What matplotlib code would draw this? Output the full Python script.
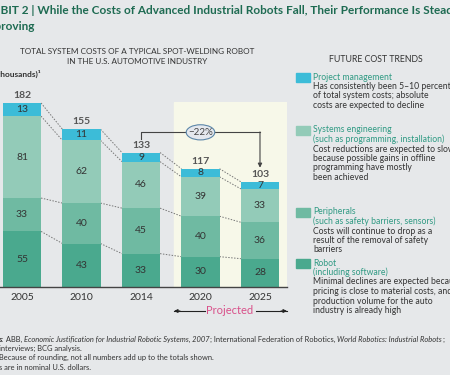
import matplotlib
matplotlib.use("Agg")
import matplotlib.pyplot as plt
from matplotlib.patches import Ellipse
from matplotlib.text import Annotation

plt.rcParams["font.family"] = ["Lato", "DejaVu Sans"]

# data
years = ["2005", "2010", "2014", "2020", "2025"]
robot = [55, 43, 33, 30, 28]
peripherals = [33, 40, 45, 40, 36]
systems_eng = [81, 62, 46, 39, 33]
project_mgmt = [13, 11, 9, 8, 7]
totals = [182, 155, 133, 117, 103]

series = [robot, peripherals, systems_eng, project_mgmt]
colors = ["#4aa98e", "#6fbaa2", "#93cbb8", "#3cbcd8"]

bg = "#e6e8ea"
dark = "#333333"
green = "#1e6b52"
teal = "#2f9a83"

W, H = 450, 375
fig = plt.figure(figsize=(4.5, 3.75), dpi=100, facecolor=bg)

def px(x, y):
    # pixel position (from top-left) -> figure fraction
    return x / W, 1 - y / H

# bars axes: baseline at y=287px, top at 102px, x from 0 to 287px
ax = fig.add_axes([0, (H - 287) / H, 287 / W, 185 / H])
ax.set_facecolor("none")
ax.set_xlim(-0.37, 4.454)
ax.set_ylim(0, 183)
ax.axvspan(2.555, 4.454, color="#f7f8e9", zorder=0)

xs = list(range(len(years)))
bw = 0.64
bottoms = [0] * len(years)
levels = []
for vals, c in zip(series, colors):
    ax.bar(xs, vals, bw, bottom=bottoms, color=c, zorder=2)
    for i, v in enumerate(vals):
        ax.text(i, bottoms[i] + v / 2, str(v), ha="center", va="center",
                fontsize=7.5, color=dark, zorder=3)
    bottoms = [b + v for b, v in zip(bottoms, vals)]
    levels.append(list(bottoms))

# dotted connectors between bars
for lev in levels:
    for i in range(len(years) - 1):
        ax.plot([i + bw / 2, i + 1 - bw / 2], [lev[i], lev[i + 1]],
                ls=(0, (1.5, 1.5)), lw=0.7, color="#777777", zorder=1)

for i, t in enumerate(totals):
    ax.text(i, bottoms[i] + 3, str(t), ha="center", va="bottom",
            fontsize=7.5, color="#555555", fontweight="bold", clip_on=False)

# -22% bracket
ax.plot([2, 2, 4], [146, 153, 153], color="#444444", lw=0.8, clip_on=False)
ax.annotate("", xy=(4, 118), xytext=(4, 153.4),
            arrowprops=dict(arrowstyle="-|>", color="#444444", lw=0.8,
                            mutation_scale=6, shrinkA=0, shrinkB=0))
ax.add_patch(Ellipse((3, 153), 0.48, 15, facecolor="#e4e8ee",
                     edgecolor="#5b86a8", lw=0.8, zorder=4))
ax.text(3, 153, "\u221222%", ha="center", va="center", fontsize=7,
        color="#444444", zorder=5)

for s in ["top", "right", "left"]:
    ax.spines[s].set_visible(False)
ax.spines["bottom"].set_color("#444444")
ax.spines["bottom"].set_linewidth(1.0)
ax.set_yticks([])
ax.set_xticks(xs)
ax.set_xticklabels(years, fontsize=7.5, color=dark)
ax.tick_params(axis="x", length=0, pad=4)

# projected marker
fig.text(*px(230, 311), "Projected", ha="center", va="center",
         fontsize=8, color="#d9508a")
fig.add_artist(plt.Line2D([174 / W, 205 / W], [1 - 311 / H] * 2, color="#222222", lw=0.8))
fig.add_artist(plt.Line2D([256 / W, 287 / W], [1 - 311 / H] * 2, color="#222222", lw=0.8))
ax.annotate("", xy=px(174, 311), xytext=px(180, 311), xycoords="figure fraction",
            arrowprops=dict(arrowstyle="-|>", color="#222222", lw=0.8, mutation_scale=5,
                            shrinkA=0, shrinkB=0))
ax.annotate("", xy=px(287, 311), xytext=px(281, 311), xycoords="figure fraction",
            arrowprops=dict(arrowstyle="-|>", color="#222222", lw=0.8, mutation_scale=5,
                            shrinkA=0, shrinkB=0))

# titles
fig.text(*px(-27, 11), "EXHIBIT 2 | While the Costs of Advanced Industrial Robots Fall, "
         "Their Performance Is Steadily Improving", ha="left", va="center",
         fontsize=8.45, fontweight="bold", color=green)
fig.text(*px(-19, 27), "Improving", ha="left", va="center",
         fontsize=8.45, fontweight="bold", color=green)
fig.text(*px(137, 51), "TOTAL SYSTEM COSTS OF A TYPICAL SPOT-WELDING ROBOT",
         ha="center", va="center", fontsize=5.85, color=dark)
fig.text(*px(137, 61), "IN THE U.S. AUTOMOTIVE INDUSTRY",
         ha="center", va="center", fontsize=5.85, color=dark)
fig.text(*px(376, 60), "FUTURE COST TRENDS", ha="center", va="center",
         fontsize=6.3, color=dark)
fig.text(*px(-12, 74), "($ thousands)\u00b9", ha="left", va="center",
         fontsize=6, color=dark, fontweight="bold")

# legend with descriptions
legend_items = [
    ("Project management", [],
     ["Has consistently been 5\u201310 percent", "of total system costs; absolute",
      "costs are expected to decline"], 77),
    ("Systems engineering", ["(such as programming, installation)"],
     ["Cost reductions are expected to slow", "because possible gains in offline",
      "programming have mostly", "been achieved"], 130),
    ("Peripherals", ["(such as safety barriers, sensors)"],
     ["Costs will continue to drop as a", "result of the removal of safety",
      "barriers"], 212),
    ("Robot", ["(including software)"],
     ["Minimal declines are expected because", "pricing is close to material costs, and",
      "production volume for the auto", "industry is already high"], 263),
]
step = 9.5
for (head, sub, desc, y0), c in zip(legend_items, colors[::-1]):
    fig.patches.append(plt.Rectangle(px(296, y0 + 4.5), 14 / W, 9 / H,
                                     transform=fig.transFigure, color=c))
    y = y0
    for line in [head] + sub:
        fig.text(*px(313, y), line, ha="left", va="center", fontsize=6.25, color=teal)
        y += step
    for line in desc:
        fig.text(*px(313, y), line, ha="left", va="center", fontsize=6.25, color=dark)
        y += step

# footnotes
fs = 5.4
pieces = [
    ("s:", dict(fontweight="bold")),
    (" ABB, ", {}),
    ("Economic Justification for Industrial Robotic Systems, 2007", dict(fontstyle="italic")),
    ("; International Federation of Robotics, ", {}),
    ("World Robotics: Industrial Robots", dict(fontstyle="italic")),
    (";", {}),
]
prev = fig.text(*px(-1, 343), pieces[0][0], ha="left", va="bottom",
                fontsize=fs, color=dark, **pieces[0][1])
for txt, kw in pieces[1:]:
    prev = Annotation(txt, xy=(1, 0), xycoords=prev, ha="left", va="bottom",
                      fontsize=fs, color=dark, **kw)
    fig.add_artist(prev)
fig.text(*px(-1, 348), "interviews; BCG analysis.", ha="left", va="center",
         fontsize=fs, color=dark)
fig.text(*px(-1, 357), "Because of rounding, not all numbers add up to the totals shown.",
         ha="left", va="center", fontsize=fs, color=dark)
fig.text(*px(-1, 367), "s are in nominal U.S. dollars.", ha="left", va="center",
         fontsize=fs, color=dark)

fig.savefig("out.png", dpi=100, facecolor=bg)
